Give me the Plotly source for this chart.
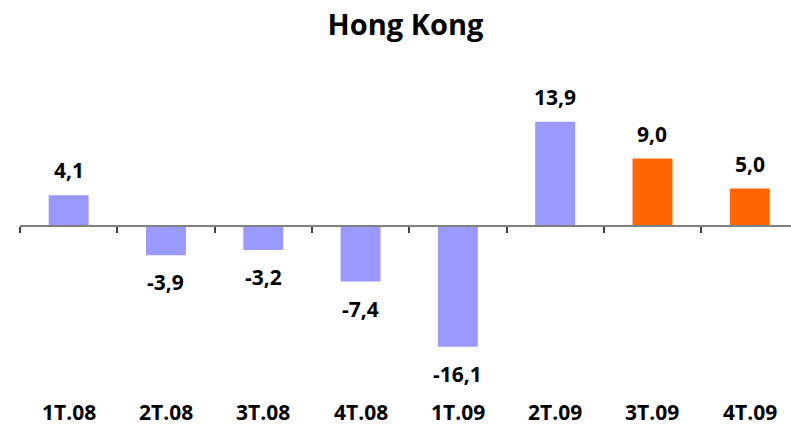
import plotly.graph_objects as go

# Quarterly GDP growth, Hong Kong
quarters = ["1T.08", "2T.08", "3T.08", "4T.08", "1T.09", "2T.09", "3T.09", "4T.09"]
growth = [4.1, -3.9, -3.2, -7.4, -16.1, 13.9, 9.0, 5.0]
is_forecast = [False, False, False, False, False, False, True, True]

ACTUAL_COLOR = "#9999FF"
FORECAST_COLOR = "#FF6600"
FONT = "Open Sans"

colors = [FORECAST_COLOR if f else ACTUAL_COLOR for f in is_forecast]

W, H = 791, 426
M_LEFT, M_RIGHT, M_TOP, M_BOTTOM = 20, 0, 50, 0
px_per_unit = 7.5
zero_px = 226  # vertical pixel position of the zero line
plot_h = H - M_TOP - M_BOTTOM
y_max = (zero_px - M_TOP) / px_per_unit
y_min = -(H - M_BOTTOM - zero_px) / px_per_unit
cat_px = 97.3
x_hi = -0.5 + (W - M_LEFT - M_RIGHT) / cat_px

fig = go.Figure()
fig.add_trace(go.Bar(
    x=quarters,
    y=growth,
    marker=dict(color=colors, line=dict(width=0)),
    width=0.41,
    hoverinfo="skip",
))

annotations = []
for q, v in zip(quarters, growth):
    annotations.append(dict(
        x=q, y=v, xref="x", yref="y",
        text=f"{v:.1f}".replace(".", ","),
        showarrow=False,
        yanchor="middle",
        yshift=25 if v >= 0 else -27,
        font=dict(family=FONT, size=21, color="#000000", weight="bold"),
    ))
    annotations.append(dict(
        x=q, y=(H - M_BOTTOM - 411.5) / plot_h, xref="x", yref="paper",
        text=q,
        showarrow=False,
        yanchor="middle",
        borderpad=0,
        font=dict(family=FONT, size=21, color="#000000", weight="bold"),
    ))

fig.update_layout(
    width=W, height=H,
    margin=dict(l=M_LEFT, r=M_RIGHT, t=M_TOP, b=M_BOTTOM, pad=0),
    paper_bgcolor="white",
    plot_bgcolor="white",
    showlegend=False,
    title=dict(
        text="Hong Kong",
        x=0.5, xref="paper", xanchor="center",
        y=1 - 25 / H, yref="container", yanchor="middle",
        font=dict(family=FONT, size=29, color="#000000", weight="bold"),
    ),
    xaxis=dict(
        type="category",
        categoryorder="array",
        categoryarray=quarters,
        range=[-0.5, x_hi],
        anchor="free",
        position=(0 - y_min) / (y_max - y_min),
        showline=True,
        linecolor="#808080",
        linewidth=2,
        ticks="outside",
        tickson="boundaries",
        ticklen=6,
        tickwidth=1.5,
        tickcolor="#404040",
        showticklabels=False,
        showgrid=False,
        zeroline=False,
    ),
    yaxis=dict(
        range=[y_min, y_max],
        visible=False,
        showgrid=False,
        zeroline=False,
    ),
    annotations=annotations,
)

fig.write_html("out.html")
